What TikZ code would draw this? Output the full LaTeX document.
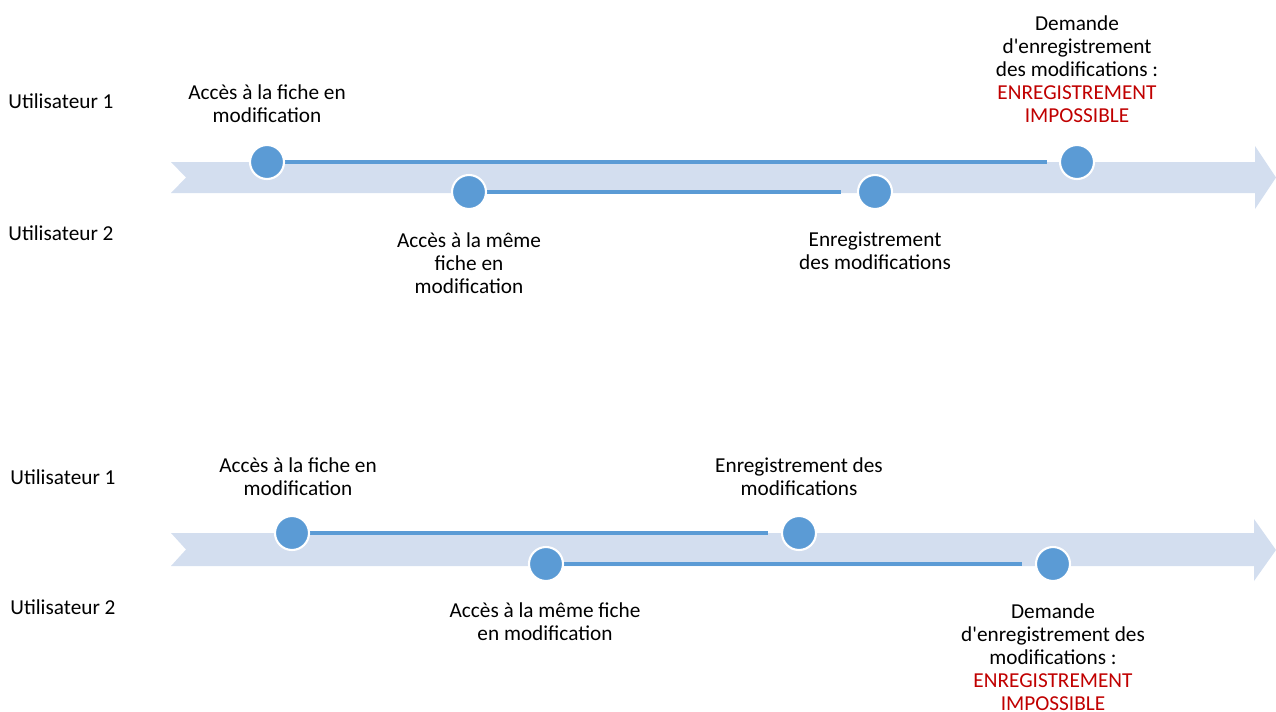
\documentclass[tikz,border=0pt]{standalone}
\usepackage{fontspec}
\setmainfont{Carlito}[Ligatures=TeXOff]
\usepackage{xcolor}
\usepackage{tikz}
\usetikzlibrary{backgrounds}
\definecolor{bandblue}{HTML}{D3DEEF}
\definecolor{dotblue}{HTML}{5B9BD5}
\definecolor{alertred}{HTML}{C00000}
\tikzset{
  evt/.style={circle, fill=dotblue, draw=white, line width=1.2pt, minimum size=0.68cm, inner sep=0pt},
  track/.style={dotblue, line width=2.8pt},
  lbl/.style={align=center, inner sep=0pt},
  who/.style={anchor=west, inner sep=0pt}
}
\newcommand{\alerte}[1]{\textcolor{alertred}{#1}}

\begin{document}
\begin{tikzpicture}[x=0.02cm, y=-0.02cm, every node/.style={font=\fontsize{12.1}{13.1}\selectfont}]
        \useasboundingbox (0,0) rectangle (1276,711);
        % premier scenario
        \node[who] (usrA1) at (8,101) {Utilisateur 1};
        \node[who] (usrA2) at (8,233) {Utilisateur 2};
        \node[evt] (accA1) at (267,162) {};
        \node[evt] (accA2) at (469,192) {};
        \node[evt] (enrA2) at (875,192) {};
        \node[evt] (demA1) at (1077,162) {};
        \node[lbl] (txtaccA1) at (267,104) {Accès à la fiche en\\modification};
        \node[lbl] (txtaccA2) at (469,263) {Accès à la même\\fiche en\\modification};
        \node[lbl] (txtenrA2) at (875,251) {Enregistrement\\des modifications};
        \node[lbl] (txtdemA1) at (1077,69) {Demande\\d'enregistrement\\des modifications :\\\alerte{ENREGISTREMENT}\\\alerte{IMPOSSIBLE}};
        % second scenario
        \node[who] (usrB1) at (10,477) {Utilisateur 1};
        \node[who] (usrB2) at (10,607) {Utilisateur 2};
        \node[evt] (accB1) at (292,533) {};
        \node[evt] (enrB1) at (799,533) {};
        \node[evt] (accB2) at (546,564) {};
        \node[evt] (demB2) at (1053,564) {};
        \node[lbl] (txtaccB1) at (298,477) {Accès à la fiche en\\modification};
        \node[lbl] (txtenrB1) at (799,477) {Enregistrement des\\modifications};
        \node[lbl] (txtaccB2) at (545,622) {Accès à la même fiche\\en modification};
        \node[lbl] (txtdemB2) at (1053,657) {Demande\\d'enregistrement des\\modifications :\\\alerte{ENREGISTREMENT}\\\alerte{IMPOSSIBLE}};
        \begin{scope}[on background layer]
            \fill[bandblue] (171,162) -- (1255,162) -- (1255,146) -- (1276,177.5) -- (1255,209) -- (1255,193) -- (171,193) -- (186,177.5) -- cycle;
            \fill[bandblue] (171,533) -- (1254,533) -- (1254,519) -- (1276,550) -- (1254,581) -- (1254,566) -- (171,566) -- (186,549.5) -- cycle;
            \draw[track] (accA1.center) -- ([xshift=-0.24cm]demA1.west);
            \draw[track] (accA2.center) -- ([xshift=-0.32cm]enrA2.west);
            \draw[track] (accB1.center) -- ([xshift=-0.26cm]enrB1.west);
            \draw[track] (accB2.center) -- ([xshift=-0.26cm]demB2.west);
        \end{scope}
    \end{tikzpicture}
\end{document}
